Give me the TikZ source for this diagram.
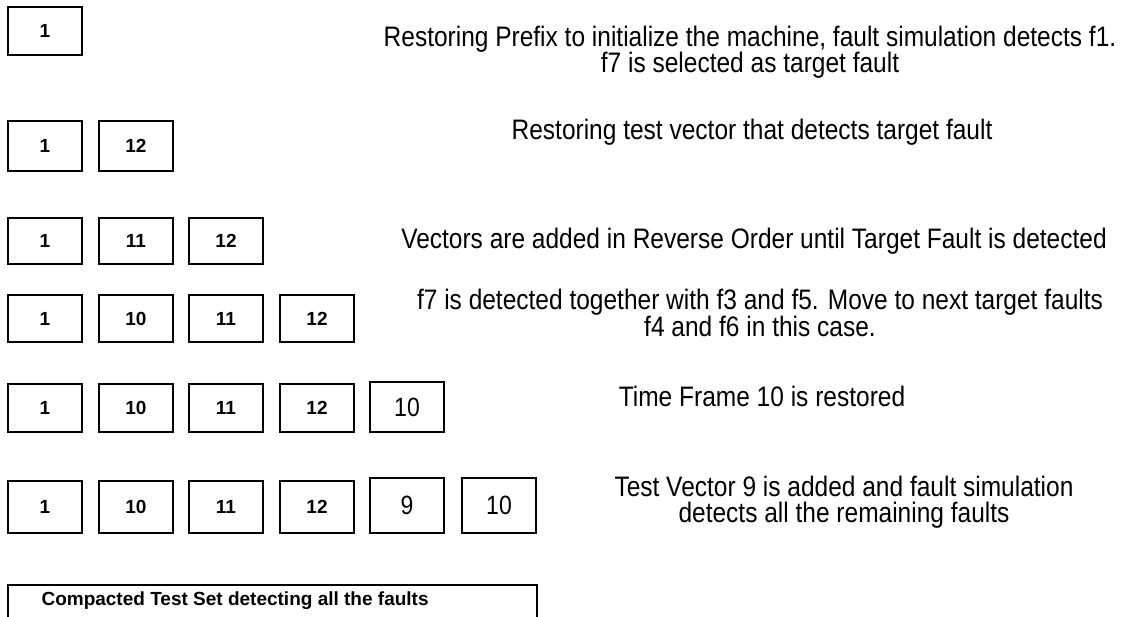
\documentclass[tikz,border=0pt]{standalone}
\usepackage{fontspec}
\setmainfont{Liberation Sans}
\usepackage{graphicx}
\usepackage{xcolor}

\newcommand{\tallnum}[1]{\scalebox{1}[1.15]{#1}}

\tikzset{
    frame/.style={draw, line width=1.5pt, minimum width=74pt, minimum height=48pt, inner sep=0pt, font=\fontsize{19}{22}\selectfont\bfseries},
    plainframe/.style={frame, font=\fontsize{23}{26}\selectfont},
    note/.style={align=center, yscale=1.15, font=\fontsize{24.5}{23}\selectfont}
}

\begin{document}
\begin{tikzpicture}[x=1pt, y=-1pt]

        \useasboundingbox (0,0) rectangle (1124,617);

        % Step 1: prefix
        \node[frame] (a1) at (45,31) {1};
        \node[note] (ta) at (750,52) {Restoring Prefix to initialize the machine, fault simulation detects f1.\\ f7 is selected as target fault};

        % Step 2: target vector
        \node[frame, minimum height=50pt] (b1) at (45,146) {1};
        \node[frame, minimum height=50pt] (b2) at (136,146) {12};
        \node[note] (tb) at (752,132) {Restoring test vector that detects target fault};

        % Step 3: reverse order
        \node[frame, minimum height=46pt] (c1) at (45,241) {1};
        \node[frame, minimum height=46pt] (c2) at (136,241) {11};
        \node[frame, minimum height=46pt] (c3) at (226,241) {12};
        \node[note] (tc) at (754,241) {Vectors are added in Reverse Order until Target Fault is detected};

        % Step 4
        \node[frame, minimum height=47pt] (d1) at (45,318.5) {1};
        \node[frame, minimum height=47pt] (d2) at (136,318.5) {10};
        \node[frame, minimum height=47pt] (d3) at (226,318.5) {11};
        \node[frame, minimum height=47pt] (d4) at (317,318.5) {12};
        \node[note] (td) at (760,313) {f7 is detected together with f3 and f5. Move to next target faults\\ f4 and f6 in this case.};

        % Step 5: time frame 10
        \node[frame] (e1) at (45,408) {1};
        \node[frame] (e2) at (136,408) {10};
        \node[frame] (e3) at (226,408) {11};
        \node[frame] (e4) at (317,408) {12};
        \node[plainframe, minimum height=50pt] (e5) at (407,407) {\tallnum{10}};
        \node[note] (te) at (762,396) {Time Frame 10 is restored};

        % Step 6: vector 9
        \node[frame, minimum height=52pt] (f1) at (45,507) {1};
        \node[frame, minimum height=52pt] (f2) at (136,507) {10};
        \node[frame, minimum height=52pt] (f3) at (226,507) {11};
        \node[frame, minimum height=52pt] (f4) at (317,507) {12};
        \node[plainframe, minimum height=55pt] (f5) at (407,505.5) {\tallnum{9}};
        \node[plainframe, minimum height=55pt] (f6) at (499,505.5) {\tallnum{10}};
        \node[note] (tf) at (844,502) {Test Vector 9 is added and fault simulation\\ detects all the remaining faults};

        % Compacted set
        \draw[line width=1.5pt] (8,617) -- (8,585) -- (537,585) -- (537,617);
        \node[anchor=west, font=\fontsize{19}{22}\selectfont\bfseries] (g) at (38,601) {Compacted Test Set detecting all the faults};

\end{tikzpicture}
\end{document}
